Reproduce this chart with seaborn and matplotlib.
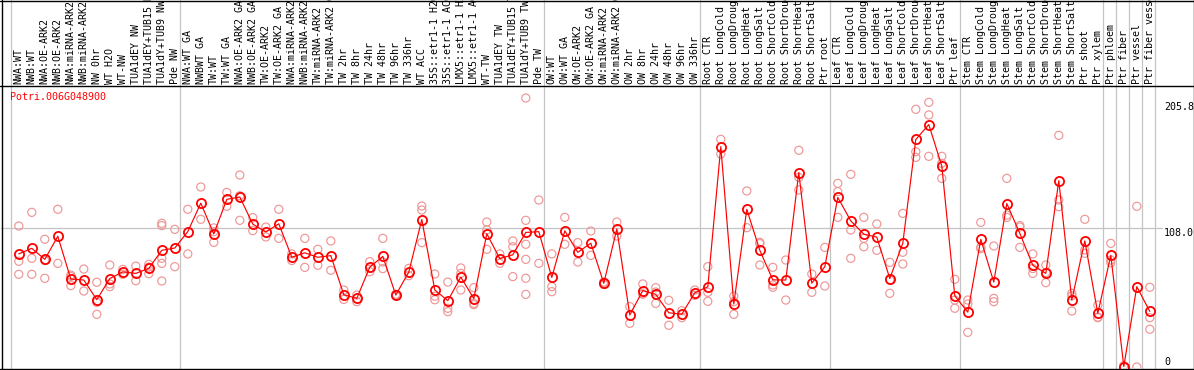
import numpy as np
import pandas as pd
import matplotlib
matplotlib.use('Agg')
import matplotlib.pyplot as plt
import matplotlib.transforms as mtransforms
from matplotlib.lines import Line2D
import seaborn as sns

# Daten
GENE = 'Potri.006G048900'

samples = [
    'NWA:WT', 'NWB:WT', 'NWA:OE-ARK2', 'NWB:OE-ARK2', 'NWA:miRNA-ARK2', 'NWB:miRNA-ARK2',
    'NW 0hr', 'WT H2O', 'WT-NW', 'TUA1dEY NW', 'TUA1dEY+TUB15 NW', 'TUA1dY+TUB9 NW', 'Pde NW',
    'NWA:WT GA', 'NWBWT GA', 'TW:WT', 'TW:WT GA', 'NWA:OE-ARK2 GA', 'NWB:OE-ARK2 GA',
    'TW:OE-ARK2', 'TW:OE-ARK2 GA', 'NWA:miRNA-ARK2 GA', 'NWB:miRNA-ARK2 GA', 'TW:miRNA-ARK2',
    'TW:miRNA-ARK2 GA', 'TW 2hr', 'TW 8hr', 'TW 24hr', 'TW 48hr', 'TW 96hr', 'TW 336hr',
    'WT ACC', '35S::etr1-1 H2O', '35S::etr1-1 ACC', 'LMX5::etr1-1 H2O', 'LMX5::etr1-1 ACC',
    'WT-TW', 'TUA1dEY TW', 'TUA1dEY+TUB15 TW', 'TUA1dY+TUB9 TW', 'Pde TW',
    'OW:WT', 'OW:WT GA', 'OW:OE-ARK2', 'OW:OE-ARK2 GA', 'OW:miRNA-ARK2', 'OW:miRNA-ARK2 GA',
    'OW 2hr', 'OW 8hr', 'OW 24hr', 'OW 48hr', 'OW 96hr', 'OW 336hr',
    'Root CTR', 'Root LongCold', 'Root LongDrought', 'Root LongHeat', 'Root LongSalt',
    'Root ShortCold', 'Root ShortDrought', 'Root ShortHeat', 'Root ShortSalt', 'Ptr root',
    'Leaf CTR', 'Leaf LongCold', 'Leaf LongDrought', 'Leaf LongHeat', 'Leaf LongSalt',
    'Leaf ShortCold', 'Leaf ShortDrought', 'Leaf ShortHeat', 'Leaf ShortSalt', 'Ptr leaf',
    'Stem CTR', 'Stem LongCold', 'Stem LongDrought', 'Stem LongHeat', 'Stem LongSalt',
    'Stem ShortCold', 'Stem ShortDrought', 'Stem ShortHeat', 'Stem ShortSalt', 'Ptr shoot',
    'Ptr xylem', 'Ptr phloem', 'Ptr fiber', 'Ptr vessel', 'Ptr fiber vessel',
]

# replicate values per sample (mean line is computed from these)
reps = [
    [109.5, 82.1, 72.0], [120.1, 84.4, 72.0], [99.2, 82.7, 68.9], [122.5, 80.5],
    [71.4, 70.3, 63.2], [76.1, 59.0], [65.8, 50.2, 40.9], [79.2, 64.5, 62.4],
    [75.8, 72.0], [78.4, 67.0], [79.7, 77.6, 72.5], [111.6, 109.8, 84.4, 80.5, 66.8],
    [106.9, 77.9],
    [122.5, 87.8], [139.8, 114.7], [108.0, 105.1, 96.8], [135.6, 124.8],
    [149.1, 133.0, 113.9], [116.0, 105.9], [108.7, 101.0], [122.5, 99.9],
    [87.8, 82.7], [99.9, 77.4], [91.4, 79.0], [97.9, 75.1], [59.8, 52.5], [55.9, 50.7],
    [81.8, 77.0, 74.0], [99.9, 81.5, 76.4], [56.5, 55.9, 55.3], [76.6, 70.9],
    [125.0, 121.9, 96.6], [72.2, 55.0, 52.2], [66.0, 45.6, 43.0], [76.9, 72.7, 59.8],
    [61.6, 49.4, 48.4], [112.6, 106.5, 91.4], [87.8, 80.5], [97.9, 93.4, 70.2],
    [208.9, 113.9, 95.3, 83.6, 68.9, 56.4], [129.7, 80.5],
    [87.8, 62.4, 58.5], [116.2, 95.3], [96.6, 81.5], [105.6, 86.7], [66.0, 65.0, 64.0],
    [112.6, 101.7], [46.9, 33.9], [64.5, 56.7, 56.7], [61.6, 58.2, 49.4], [51.8, 32.4],
    [43.7, 38.3], [59.8, 55.6],
    [77.9, 58.0, 51.0], [176.8, 165.4], [55.1, 50.7, 40.9], [136.7, 108.2],
    [96.8, 95.8, 79.2], [77.4, 63.7, 61.9], [83.1, 52.0], [168.3, 147.3, 137.5],
    [72.2, 58.0], [92.9, 62.9],
    [142.6, 136.2, 116.2], [149.6, 106.4, 84.4], [116.2, 99.9, 93.4], [111.1, 90.6],
    [81.3, 67.6, 57.2], [119.3, 89.1, 80.0], [200.1, 167.2, 162.8], [205.5, 195.7, 163.6],
    [163.6, 158.2, 146.5], [68.1, 52.0, 45.6],
    [52.0, 48.9, 26.9], [112.3, 93.0, 92.0], [94.0, 53.3, 50.7], [146.5, 118.0, 116.2],
    [109.8, 108.7, 92.9], [87.8, 76.5, 72.7], [79.2, 73.4, 65.5], [179.9, 129.7, 124.5],
    [57.2, 55.3, 43.5], [114.7, 90.9, 88.3],
    [48.1, 38.7, 38.3], [96.0, 83.1, 81.0], [1.0, 0.0, 0.0], [124.8, 0.0],
    [61.9, 38.3, 29.3],
]

group_ends = [0, 13, 41, 53, 63, 73, 84, 85, 86, 87, 88]
y_labels = ['205.8', '108.0', '0']
y_values = [205.8, 108.0, 0.0]

W, H = 1194, 370

rows = [(i, s, v) for i, (s, r) in enumerate(zip(samples, reps)) for v in r]
df = pd.DataFrame(rows, columns=['idx', 'sample', 'value'])

sns.set_style('white')
plt.rcParams['font.family'] = ['DejaVu Sans Mono']

fig = plt.figure(figsize=(W / 100, H / 100), dpi=100)
ax = fig.add_axes([1 / W, 2 / H, 1154 / W, 283 / H])

sns.scatterplot(data=df, x='idx', y='value', ax=ax, marker='o', s=34,
                facecolors='none', edgecolor='#ee9696', linewidth=0.85, zorder=3)
sns.lineplot(data=df, x='idx', y='value', ax=ax, estimator='mean', errorbar=None,
             color='#ff0000', linewidth=0.85, marker='o', markersize=6.6,
             markerfacecolor='none', markeredgecolor='#ff0000', markeredgewidth=1.3,
             zorder=4)

ax.set_xlim(-1.3692, 87.4)
ax.set_ylim(-0.777, 219.0)
ax.set_axis_off()

# group separators and 108 gridline
top = 368 / 283
for k in group_ends:
    ax.axvline(k - 0.6, ymin=0, ymax=top, color='#c4c4c4', lw=0.9, clip_on=False, zorder=1)
ax.axhline(108.0, xmin=0, xmax=1161 / 1154, color='#c4c4c4', lw=0.9, clip_on=False, zorder=1)

# column labels
trans = mtransforms.blended_transform_factory(ax.transData, ax.transAxes)
for i, s in enumerate(samples):
    ax.text(i, 1 + 1.5 / 283, s, transform=trans, rotation=90, ha='center', va='bottom',
            fontsize=7.2, color='black', clip_on=False)

# right hand value labels
rtrans = mtransforms.blended_transform_factory(ax.transAxes, ax.transData)
for lab, v in zip(y_labels, y_values):
    ax.text(1163 / 1154, v, lab, transform=rtrans, ha='left',
            va='bottom' if v == 0 else 'top', fontsize=7.2, color='black', clip_on=False)

fig.text(10 / W, 1 - 92 / H, GENE, color='#ff0000', fontsize=7.2, ha='left', va='top')

# frame lines
for xs, ys in [([0, 1], [1 - 85.5 / H] * 2), ([0, 1], [1.5 / H] * 2),
               ([0, 1], [1 - 0.5 / H] * 2), ([1.5 / W] * 2, [0, 1]),
               ([1193.5 / W] * 2, [0, 1])]:
    fig.add_artist(Line2D(xs, ys, transform=fig.transFigure, color='black', lw=1.0))

fig.savefig('out.png', dpi=100)
